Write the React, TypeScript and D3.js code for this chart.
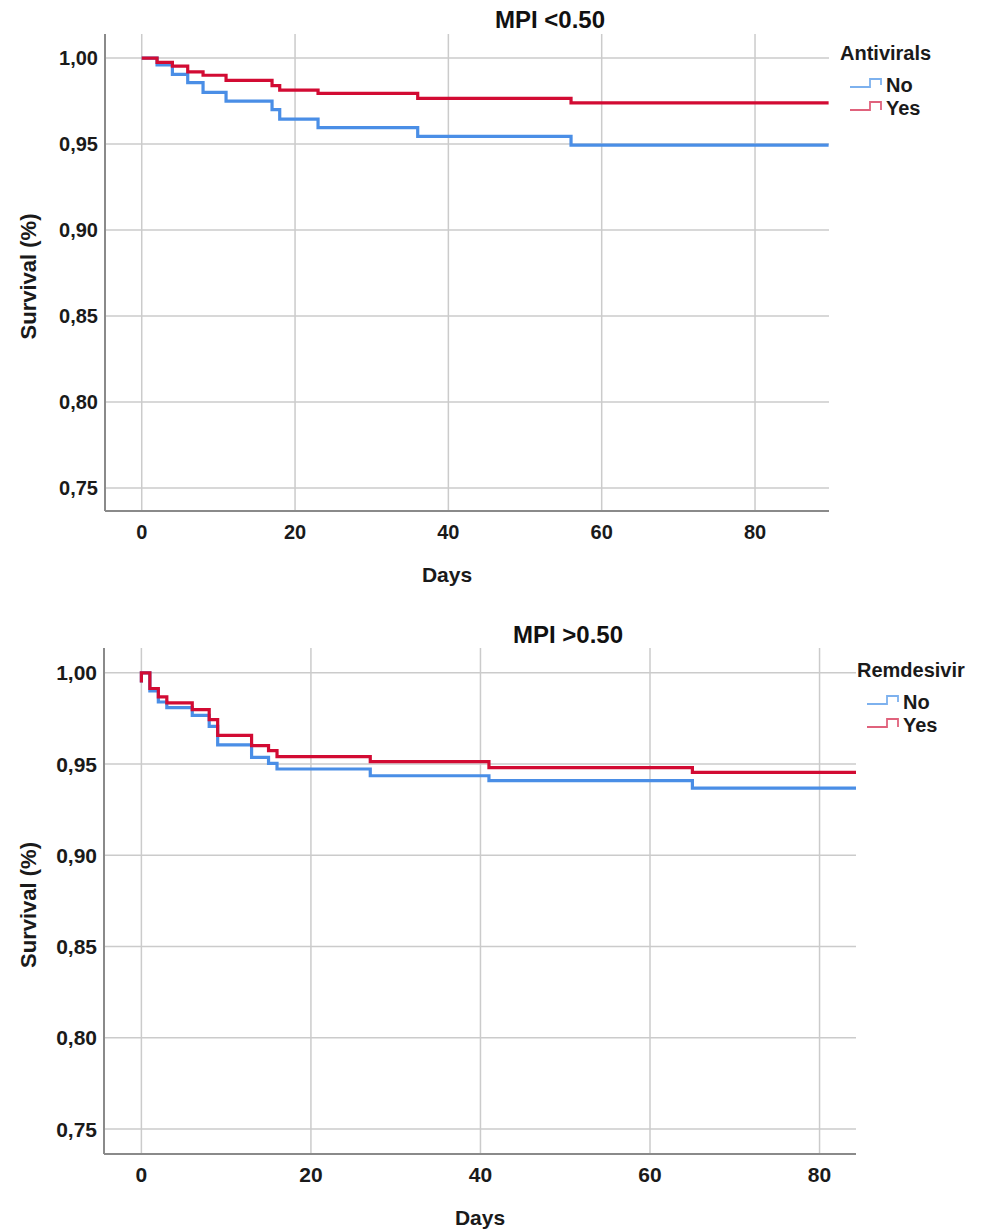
import React, { useEffect, useRef } from "react";
import * as d3 from "d3";

// top panel: MPI <0.50, by antivirals
const antiviralsDays = [0, 2, 4, 6, 8, 11, 17, 18, 23, 36, 56];
const antiviralsNo = [1.0, 0.996, 0.9905, 0.9857, 0.98, 0.975, 0.97, 0.9645, 0.9595, 0.9545, 0.9494];
const antiviralsYes = [1.0, 0.9975, 0.9953, 0.992, 0.99, 0.987, 0.984, 0.9814, 0.9795, 0.9766, 0.974];
const antiviralsFollowUp = 89.6;

// bottom panel: MPI >0.50, by remdesivir
const remdesivirDays = [0, 0, 1, 2, 3, 6, 8, 9, 13, 15, 16, 27, 41, 65];
const remdesivirNo = [0.9947, 1.0, 0.9901, 0.984, 0.9809, 0.9767, 0.9706, 0.9605, 0.9537, 0.9504, 0.9473, 0.9436, 0.9409, 0.9368];
const remdesivirYes = [0.9947, 1.0, 0.9914, 0.9868, 0.9835, 0.9798, 0.9743, 0.9657, 0.9601, 0.9574, 0.9541, 0.9513, 0.948, 0.9454];
const remdesivirFollowUp = 84.3;

const groupLabels = ["No", "Yes"];
const xTicks = [0, 20, 40, 60, 80];
const yTicks = [0.75, 0.8, 0.85, 0.9, 0.95, 1.0];

const FONT = "'Liberation Sans', Arial, sans-serif";
const BLUE = "#4a8ee6";
const RED = "#d20b33";
const BLUE_LEG = "#7db1ee";
const RED_LEG = "#e0627c";

type Panel = {
  title: string;
  legendTitle: string;
  days: number[];
  no: number[];
  yes: number[];
  followUp: number;
  frame: { left: number; right: number; top: number; bottom: number };
  xDomain: [number, number];
  yDomain: [number, number];
  titleX: number;
  titleY: number;
  xTitleX: number;
  tickSize: number;
  legendX: number;
  legendY: number;
};

const panels: Panel[] = [
  {
    title: "MPI <0.50",
    legendTitle: "Antivirals",
    days: antiviralsDays,
    no: antiviralsNo,
    yes: antiviralsYes,
    followUp: antiviralsFollowUp,
    frame: { left: 105, right: 829, top: 34, bottom: 511 },
    xDomain: [-4.79, 89.65],
    yDomain: [0.7366, 1.014],
    titleX: 550,
    titleY: 28,
    xTitleX: 447,
    tickSize: 20,
    legendX: 840,
    legendY: 60,
  },
  {
    title: "MPI >0.50",
    legendTitle: "Remdesivir",
    days: remdesivirDays,
    no: remdesivirNo,
    yes: remdesivirYes,
    followUp: remdesivirFollowUp,
    frame: { left: 104, right: 856, top: 648, bottom: 1154 },
    xDomain: [-4.41, 84.3],
    yDomain: [0.7363, 1.0136],
    titleX: 568,
    titleY: 643,
    xTitleX: 480,
    tickSize: 21,
    legendX: 857,
    legendY: 677,
  },
];

const fmt = (v: number) => d3.format(".2f")(v).replace(".", ",");

function drawPanel(svg: d3.Selection<SVGSVGElement, unknown, null, undefined>, p: Panel) {
  const { left, right, top, bottom } = p.frame;
  const x = d3.scaleLinear().domain(p.xDomain).range([left, right]);
  const y = d3.scaleLinear().domain(p.yDomain).range([bottom, top]);

  const g = svg.append("g");

  // grid
  g.selectAll(".vgrid")
    .data(xTicks)
    .enter()
    .append("line")
    .attr("x1", (d) => x(d))
    .attr("x2", (d) => x(d))
    .attr("y1", top)
    .attr("y2", bottom)
    .attr("stroke", "#cbcbcb")
    .attr("stroke-width", 1.5);

  g.selectAll(".hgrid")
    .data(yTicks)
    .enter()
    .append("line")
    .attr("x1", left)
    .attr("x2", right)
    .attr("y1", (d) => y(d))
    .attr("y2", (d) => y(d))
    .attr("stroke", "#cbcbcb")
    .attr("stroke-width", 1.5);

  // axis lines
  g.append("line")
    .attr("x1", left)
    .attr("x2", left)
    .attr("y1", top)
    .attr("y2", bottom)
    .attr("stroke", "#8a8a8a")
    .attr("stroke-width", 2);
  g.append("line")
    .attr("x1", left)
    .attr("x2", right)
    .attr("y1", bottom)
    .attr("y2", bottom)
    .attr("stroke", "#8a8a8a")
    .attr("stroke-width", 2);

  // tick labels
  g.selectAll(".ytick")
    .data(yTicks)
    .enter()
    .append("text")
    .attr("x", left - 7)
    .attr("y", (d) => y(d))
    .attr("dy", "0.36em")
    .attr("text-anchor", "end")
    .attr("font-family", FONT)
    .attr("font-size", p.tickSize)
    .attr("font-weight", "bold")
    .attr("fill", "#1a1a1a")
    .text(fmt);

  g.selectAll(".xtick")
    .data(xTicks)
    .enter()
    .append("text")
    .attr("x", (d) => x(d))
    .attr("y", bottom + 28)
    .attr("text-anchor", "middle")
    .attr("font-family", FONT)
    .attr("font-size", p.tickSize)
    .attr("font-weight", "bold")
    .attr("fill", "#1a1a1a")
    .text((d) => d);

  // axis titles
  g.append("text")
    .attr("x", p.xTitleX)
    .attr("y", bottom + 71)
    .attr("text-anchor", "middle")
    .attr("font-family", FONT)
    .attr("font-size", 21)
    .attr("font-weight", "bold")
    .attr("fill", "#1a1a1a")
    .text("Days");

  g.append("text")
    .attr("transform", `translate(36, ${(top + bottom) / 2 + 4}) rotate(-90)`)
    .attr("text-anchor", "middle")
    .attr("font-family", FONT)
    .attr("font-size", 22)
    .attr("font-weight", "bold")
    .attr("fill", "#1a1a1a")
    .text("Survival (%)");

  g.append("text")
    .attr("x", p.titleX)
    .attr("y", p.titleY)
    .attr("text-anchor", "middle")
    .attr("font-family", FONT)
    .attr("font-size", 24)
    .attr("font-weight", "bold")
    .attr("fill", "#111")
    .text(p.title);

  // survival curves
  const line = d3
    .line<[number, number]>()
    .x((d) => x(d[0]))
    .y((d) => y(d[1]))
    .curve(d3.curveStepAfter);

  const series = [
    { values: p.no, color: BLUE },
    { values: p.yes, color: RED },
  ];
  series.forEach((s) => {
    const pts: [number, number][] = p.days.map((d, i) => [d, s.values[i]]);
    pts.push([p.followUp, s.values[s.values.length - 1]]);
    g.append("path")
      .datum(pts)
      .attr("d", line)
      .attr("fill", "none")
      .attr("stroke", s.color)
      .attr("stroke-width", 3.2);
  });

  // legend
  const lg = g.append("g").attr("transform", `translate(${p.legendX}, ${p.legendY})`);
  lg.append("text")
    .attr("x", 0)
    .attr("y", 0)
    .attr("font-family", FONT)
    .attr("font-size", 20)
    .attr("font-weight", "bold")
    .attr("fill", "#1a1a1a")
    .text(p.legendTitle);

  [BLUE_LEG, RED_LEG].forEach((c, i) => {
    const oy = 32 + i * 23;
    lg.append("path")
      .attr("d", `M10,${oy - 5} H30 V${oy - 13} H41 V${oy - (i === 0 ? 7 : 5)}`)
      .attr("fill", "none")
      .attr("stroke", c)
      .attr("stroke-width", 1.8);
    lg.append("text")
      .attr("x", 46)
      .attr("y", oy)
      .attr("font-family", FONT)
      .attr("font-size", 20)
      .attr("font-weight", "bold")
      .attr("fill", "#1a1a1a")
      .text(groupLabels[i]);
  });
}

const App = () => {
  const ref = useRef<SVGSVGElement>(null);

  useEffect(() => {
    const svg = d3.select(ref.current as SVGSVGElement);
    svg.selectAll("*").remove();
    panels.forEach((p) => drawPanel(svg, p));
  }, []);

  return (
    <svg
      ref={ref}
      width={987}
      height={1231}
      style={{ position: "absolute", left: 0, top: 0, background: "#fff" }}
    />
  );
};

export default App;
